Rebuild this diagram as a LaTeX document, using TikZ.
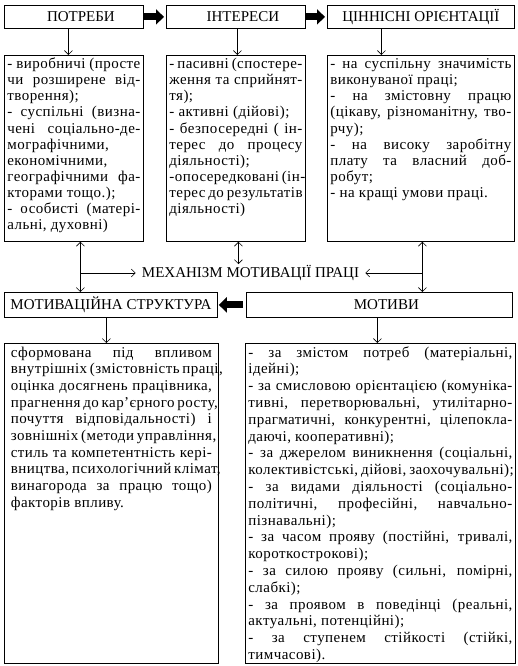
\documentclass[tikz,border=0pt]{standalone}
\usepackage{fontspec}
\setmainfont{Liberation Serif}
\newfontfamily\bodyfont[LetterSpace=3]{Liberation Serif}
\usetikzlibrary{arrows.meta,calc}

% one line of a box: justified (\jl) or left (\rl)
\newcommand\jl[1]{\noindent\makebox[\linewidth][s]{\strut#1}\par}
\newcommand\rl[1]{\noindent\makebox[\linewidth][l]{\strut#1}\par}
\newcommand\cell[4][16.1]{\parbox[t][#3][t]{#2}{\bodyfont\fontsize{15}{#1}\selectfont#4}}

\tikzset{
  hd/.style   ={draw,line width=0.8pt,anchor=north west,inner sep=0pt,font=\fontsize{15}{16.1}\selectfont,align=center},
  info/.style ={draw,line width=0.8pt,anchor=north west,inner xsep=3pt,inner ysep=2pt},
  arr/.style  ={-{Straight Barb[length=4pt,width=8pt]},line width=0.6pt},
  darr/.style ={{Straight Barb[length=4pt,width=8pt]}-{Straight Barb[length=4pt,width=8pt]},line width=0.6pt},
  fat/.style  ={-{Triangle[length=8pt,width=15pt]},line width=7pt},
}

\begin{document}
\begin{tikzpicture}[x=1pt,y=-1pt]
  \useasboundingbox (0,0) rectangle (518,666);

  % headers
  \node[hd,minimum width=139pt,minimum height=23pt] (potr)  at (4,5)   {\hspace*{14pt}ПОТРЕБИ};
  \node[hd,minimum width=139pt,minimum height=23pt] (inter) at (166,5) {\hspace*{14pt}ІНТЕРЕСИ};
  \node[hd,minimum width=187pt,minimum height=23pt] (tsinn) at (327,5) {ЦІННІСНІ ОРІЄНТАЦІЇ};

  % details
  \node[info] (potrd) at (4,55) {\cell{133pt}{182pt}{%
    \jl{- виробничі (просте}
    \jl{чи розширене від-}
    \rl{творення);}
    \jl{- суспільні (визна-}
    \jl{чені соціально-де-}
    \rl{мографічними,}
    \rl{економічними,}
    \jl{географічними фа-}
    \rl{кторами тощо.);}
    \jl{- особисті (матері-}
    \rl{альні, духовні)}}};
  \node[info] (interd) at (166,55) {\cell{133pt}{182pt}{%
    \jl{- пасивні (спостере-}
    \jl{ження та сприйнят-}
    \rl{тя);}
    \rl{- активні (дійові);}
    \jl{- безпосередні ( ін-}
    \jl{терес до процесу}
    \rl{діяльності);}
    \jl{-опосередковані (ін-}
    \jl{терес до результатів}
    \rl{діяльності)}}};
  \node[info] (tsinnd) at (327,55) {\cell{181pt}{182pt}{%
    \jl{- на суспільну значимість}
    \rl{виконуваної праці;}
    \jl{- на змістовну працю}
    \jl{(цікаву, різноманітну, тво-}
    \rl{рчу);}
    \jl{- на високу заробітну}
    \jl{плату та власний доб-}
    \rl{робут;}
    \rl{- на кращі умови праці.}}};

  \node[font=\fontsize{15}{16.1}\selectfont,inner xsep=6pt,inner ysep=1pt] (mech) at (250.5,273) {МЕХАНІЗМ МОТИВАЦІЇ ПРАЦІ};

  \node[hd,minimum width=213pt,minimum height=25pt] (mstr)  at (4,292)   {МОТИВАЦІЙНА СТРУКТУРА};
  \node[hd,minimum width=266pt,minimum height=25pt] (motiv) at (246,292) {\hspace*{14pt}МОТИВИ};

  \node[info,inner xsep=6.5pt] (mstrd) at (4,343) {\cell[16.7]{201pt}{316pt}{%
    \jl{сформована під впливом}
    \jl{внутрішніх (змістовність праці,}
    \jl{оцінка досягнень працівника,}
    \jl{прагнення до кар’єрного росту,}
    \jl{почуття відповідальності) і}
    \jl{зовнішніх (методи управління,}
    \jl{стиль та компетентність кері-}
    \jl{вництва, психологічний клімат,}
    \jl{винагорода за працю тощо)}
    \rl{факторів впливу.}}};
  \node[info] (motivd) at (245,343) {\cell[16.8]{264pt}{316pt}{%
    \jl{- за змістом потреб (матеріальні,}
    \rl{ідейні);}
    \jl{- за смисловою орієнтацією (комуніка-}
    \jl{тивні, перетворювальні, утилітарно-}
    \jl{прагматичні, конкурентні, цілепокла-}
    \rl{даючі, кооперативні);}
    \jl{- за джерелом виникнення (соціальні,}
    \jl{колективістські, дійові, заохочувальні);}
    \jl{- за видами діяльності (соціально-}
    \jl{політичні, професійні, навчально-}
    \rl{пізнавальні);}
    \jl{- за часом прояву (постійні, тривалі,}
    \rl{короткострокові);}
    \jl{- за силою прояву (сильні, помірні,}
    \rl{слабкі);}
    \jl{- за проявом в поведінці (реальні,}
    \rl{актуальні, потенційні);}
    \jl{- за ступенем стійкості (стійкі,}
    \rl{тимчасові).}}};

  % connectors
  \draw[fat,shorten >=2pt] (potr.east) -- (inter.west);
  \draw[fat,shorten >=2pt] (inter.east) -- (tsinn.west);
  \draw[fat,shorten <=3pt,shorten >=1pt] (motiv.west) -- (mstr.east);

  \draw[arr] ([xshift=-5.5pt]potr.south) -- ([xshift=-5.5pt]potrd.north);
  \draw[arr] ([xshift=1.5pt]inter.south) -- ([xshift=1.5pt]interd.north);
  \draw[arr] ([xshift=-39.5pt]tsinn.south) -- ([xshift=-39.5pt]tsinnd.north);

  \draw[darr] ([xshift=6.5pt]potrd.south) -- ([xshift=6.5pt]potrd.south |- mstr.north);
  \draw[darr] ([xshift=2.5pt]interd.south) -- ([xshift=2.5pt]interd.south |- mech.north);
  \draw[darr] ([xshift=1.5pt]tsinnd.south) -- ([xshift=1.5pt]tsinnd.south |- motiv.north);
  \draw[arr] ([xshift=6.5pt]potrd.south |- mech.west) -- (mech.west);
  \draw[arr] ([xshift=1.5pt]tsinnd.south |- mech.east) -- (mech.east);

  \draw[arr] ([xshift=-4.5pt]mstr.south) -- ([xshift=-4.5pt]mstr.south |- mstrd.north);
  \draw[arr] ([xshift=-2pt]motiv.south) -- ([xshift=-2pt]motiv.south |- motivd.north);
\end{tikzpicture}
\end{document}
